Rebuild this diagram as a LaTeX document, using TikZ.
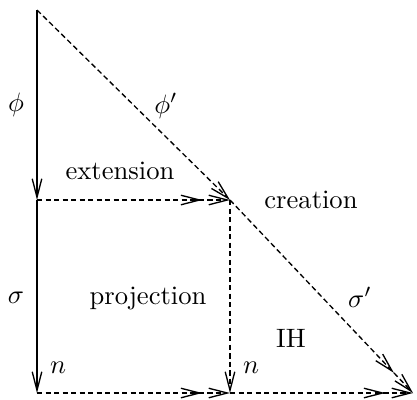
\documentclass[tikz,border=0pt]{standalone}
\usetikzlibrary{arrows.meta}
\begin{document}
\begin{tikzpicture}[x=0.376pt, y=-0.376pt, line width=0.5pt,
    single/.style={-{Straight Barb[length=7pt,width=3.6pt]}},
    double/.style={-{Straight Barb[length=7pt,width=3.6pt,sep=2.2pt] Straight Barb[length=7pt,width=3.6pt]}},
    dsh/.style={dash pattern=on 2pt off 1.2pt}]
    \useasboundingbox (0,0) rectangle (417,399);
    \coordinate (1) at (37,10);
    \coordinate (2) at (37,200);
    \coordinate (3) at (37,393);
    \coordinate (4) at (230,200);
    \coordinate (5) at (230,393);
    \coordinate (6) at (413,393);
    \draw[single] (1) -- (2);
    \draw[single] (2) -- (3);
    \draw[single, dsh] (1) -- (4);
    \draw[double, dsh] (4) -- (6);
    \draw[double, dsh] (2) -- (4);
    \draw[single, dsh] (4) -- (5);
    \draw[double, dsh] (3) -- (5);
    \draw[double, dsh] (5) -- (6);
    \node (phi) at (16,105) {$\phi$};
    \node (phip) at (166,106) {$\phi'$};
    \node (ext) at (120,171) {extension};
    \node (cre) at (311,200) {creation};
    \node (sig) at (16,298) {$\sigma$};
    \node (proj) at (148,298) {projection};
    \node (sigp) at (360,297) {$\sigma'$};
    \node (ih) at (291,338) {IH};
    \node (n1) at (58,368) {$n$};
    \node (n2) at (251,368) {$n$};
\end{tikzpicture}
\end{document}
